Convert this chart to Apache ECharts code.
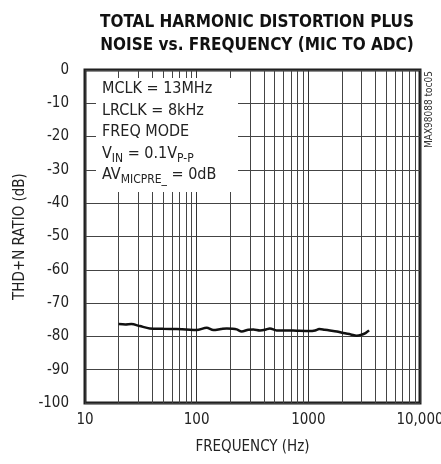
<!DOCTYPE html>
<html>
<head>
<meta charset="utf-8">
<script src="https://cdn.jsdelivr.net/npm/echarts@6/dist/echarts.min.js"></script>
<style>
  html, body { margin: 0; padding: 0; background: #fff; }
  #chart { width: 441px; height: 464px; }
</style>
</head>
<body>
<div id="chart"></div>
<script>
// frequency (Hz) and THD+N (dB)
const freq = [20, 23, 26, 31, 38, 50, 66, 80, 100, 123, 141, 165, 186, 210, 228, 253, 290, 322, 369, 410, 453, 520, 650, 785, 1030, 1150, 1252, 1400, 1560, 1800, 2056, 2400, 2705, 2998, 3250, 3500];
const thdn = [-76.3, -76.4, -76.3, -76.9, -77.6, -77.7, -77.8, -77.9, -78.1, -77.4, -78.1, -77.8, -77.6, -77.7, -77.9, -78.5, -78.0, -77.9, -78.2, -78.0, -77.6, -78.2, -78.2, -78.3, -78.4, -78.2, -77.8, -78.0, -78.2, -78.5, -79.0, -79.4, -79.8, -79.5, -79.0, -78.2];
const minorFreqs = [20, 30, 40, 50, 60, 70, 80, 90, 200, 300, 400, 500, 600, 700, 800, 900, 2000, 3000, 4000, 5000, 6000, 7000, 8000, 9000];
const yTicks = [0, -10, -20, -30, -40, -50, -60, -70, -80, -90, -100];

const font = '"DejaVu Sans Condensed", "Liberation Sans Narrow", sans-serif';
const chart = echarts.init(document.getElementById('chart'));

const option = {
    animation: false,
    title: {
        text: 'TOTAL HARMONIC DISTORTION PLUS\nNOISE vs. FREQUENCY (MIC TO ADC)',
        left: 252,
        top: 6,
        textAlign: 'center',
        textStyle: {
            fontFamily: font,
            fontWeight: 'bold',
            fontSize: 17,
            lineHeight: 23,
            color: '#111'
        }
    },
    grid: {
        left: 85,
        right: 21,
        top: 70,
        bottom: 61,
        show: true,
        borderWidth: 3,
        borderColor: '#1f1f1f',
        outerBoundsMode: 'none'
    },
    xAxis: {
        type: 'log',
        logBase: 10,
        min: 10,
        max: 10000,
        name: 'FREQUENCY (Hz)',
        nameLocation: 'middle',
        nameGap: 37,
        nameTextStyle: { fontFamily: font, fontSize: 15, color: '#222' },
        axisLine: { show: false },
        axisTick: { show: false },
        axisLabel: {
            margin: 10,
            fontFamily: font,
            fontSize: 15,
            color: '#222',
            formatter: v => v === 10000 ? '10,000' : String(v)
        },
        splitLine: { show: true, lineStyle: { color: '#333', width: 1 } }
    },
    yAxis: {
        type: 'value',
        min: -100,
        max: 0,
        interval: 10,
        name: 'THD+N RATIO (dB)',
        nameLocation: 'middle',
        nameGap: 54,
        nameTextStyle: { fontFamily: font, fontSize: 15, color: '#222' },
        axisLine: { show: false },
        axisTick: { show: false },
        axisLabel: {
            margin: 16,
            fontFamily: font,
            fontSize: 15,
            color: '#222',
            formatter: v => yTicks.includes(v) ? String(v) : ''
        },
        splitLine: { show: true, lineStyle: { color: '#444', width: 1 } }
    },
    series: [
        {
            type: 'line',
            data: freq.map((f, i) => [f, thdn[i]]),
            showSymbol: false,
            smooth: 0.3,
            lineStyle: { color: '#111', width: 2.5 },
            z: 5,
            markLine: {
                silent: true,
                symbol: 'none',
                label: { show: false },
                lineStyle: { color: '#444', width: 1, type: 'solid' },
                data: minorFreqs.map(f => ({ xAxis: f }))
            }
        }
    ],
    graphic: [
        {
            type: 'rect',
            z: 100,
            shape: { x: 96, y: 78, width: 142, height: 114 },
            style: { fill: '#fff' }
        },
        {
            type: 'text',
            z: 101,
            left: 102,
            top: 81,
            style: {
                text: [
                    '{n|MCLK = 13MHz}',
                    '{n|LRCLK = 8kHz}',
                    '{n|FREQ MODE}',
                    '{n|V}{s|IN}{n| = 0.1V}{s|P-P}',
                    '{n|AV}{s|MICPRE_}{n| = 0dB}'
                ].join('\n'),
                rich: {
                    n: { fontFamily: font, fontSize: 16, lineHeight: 21.5, fill: '#222', verticalAlign: 'bottom' },
                    s: { fontFamily: font, fontSize: 12, lineHeight: 17, fill: '#222', verticalAlign: 'bottom', padding: [0, 0, -3, 0] }
                }
            }
        },
        {
            type: 'text',
            z: 101,
            x: 424,
            y: 148,
            rotation: Math.PI / 2,
            style: {
                text: 'MAX98088 toc05',
                fontFamily: font,
                fontSize: 10,
                fill: '#333'
            }
        }
    ]
};

chart.setOption(option);
window.addEventListener('resize', chart.resize);
</script>
</body>
</html>
